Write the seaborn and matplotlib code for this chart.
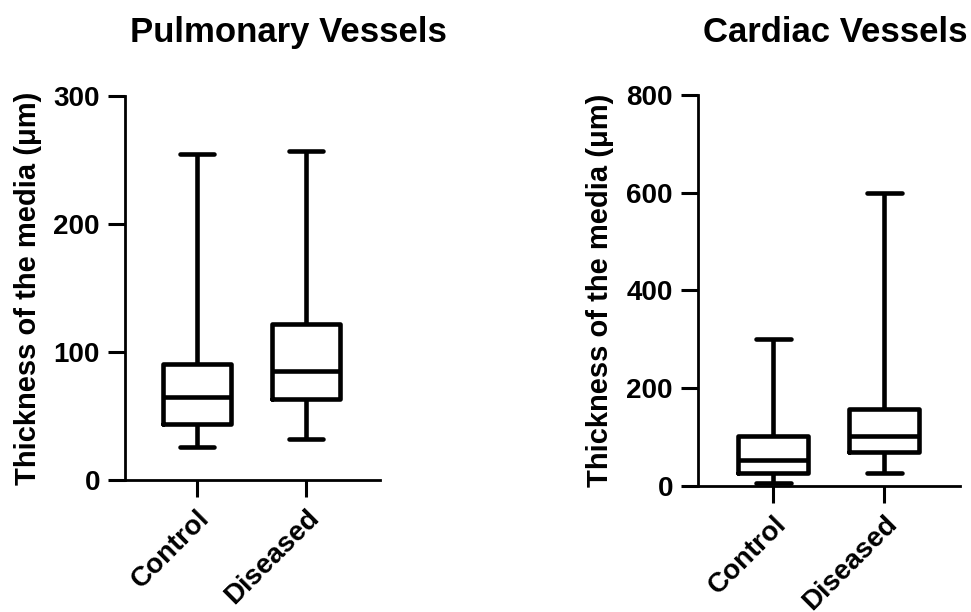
import matplotlib
matplotlib.use("Agg")
import matplotlib.pyplot as plt
import seaborn as sns
import pandas as pd

# Data: five-number summaries (min, Q1, median, Q3, max)
groups = ["Control", "Diseased"]
pulmonary_control = [26, 44, 65, 91, 255]
pulmonary_diseased = [32, 63, 85, 122, 257]
cardiac_control = [6, 27, 53, 102, 300]
cardiac_diseased = [27, 69, 103, 157, 600]

titles = ["Pulmonary Vessels", "Cardiac Vessels"]
ylabel = "Thickness of the media (\u03bcm)"
pulm_yticks = [0, 100, 200, 300]
card_yticks = [0, 200, 400, 600, 800]

sns.set_style("ticks")
plt.rcParams["font.family"] = ["Liberation Sans", "DejaVu Sans"]
plt.rcParams["font.weight"] = "bold"
plt.rcParams["text.color"] = "black"
plt.rcParams["axes.labelcolor"] = "black"

fig = plt.figure(figsize=(9.71, 6.12), dpi=100)
ax1 = fig.add_axes([0.1287, 0.2157, 0.2626, 0.6273])
ax2 = fig.add_axes([0.7188, 0.2060, 0.2698, 0.6388])


def make_df(a, b):
    return pd.DataFrame({
        "group": [groups[0]] * len(a) + [groups[1]] * len(b),
        "value": list(a) + list(b),
    })


panels = [
    (ax1, make_df(pulmonary_control, pulmonary_diseased), pulm_yticks, (-0.66, 1.68), 288 / 971, -0.325),
    (ax2, make_df(cardiac_control, cardiac_diseased), card_yticks, (-0.68, 1.68), 835 / 971, -0.32),
]

for i, (ax, df, yt, xl, tx, lx) in enumerate(panels):
    sns.boxplot(data=df, x="group", y="value", order=groups, whis=(0, 100),
                width=0.63, fill=False, color="black", linecolor="black",
                linewidth=3.3, showfliers=False, ax=ax)
    ax.set_ylim(yt[0], yt[-1])
    ax.set_yticks(yt)
    ax.set_xlim(*xl)
    ax.set_xlabel("")
    ax.set_ylabel(ylabel, fontsize=21, fontweight="bold", color="black")
    ax.yaxis.set_label_coords(lx, 0.5)
    for s in ["top", "right"]:
        ax.spines[s].set_visible(False)
    for s in ["left", "bottom"]:
        ax.spines[s].set_linewidth(2)
        ax.spines[s].set_color("black")
    ax.tick_params(axis="both", direction="out", length=12, width=2.2,
                   colors="black", labelsize=20, pad=6)
    for lab in ax.get_yticklabels():
        lab.set_fontweight("bold")
    ax.set_xticks(range(len(groups)))
    ax.set_xticklabels(groups, rotation=45, ha="right", rotation_mode="anchor",
                       fontsize=20, fontweight="bold")
    fig.text(tx, 1 - 42 / 612, titles[i], fontsize=25, fontweight="bold",
             ha="center", va="baseline", color="black")

fig.savefig("out.png", dpi=100, facecolor="white")
